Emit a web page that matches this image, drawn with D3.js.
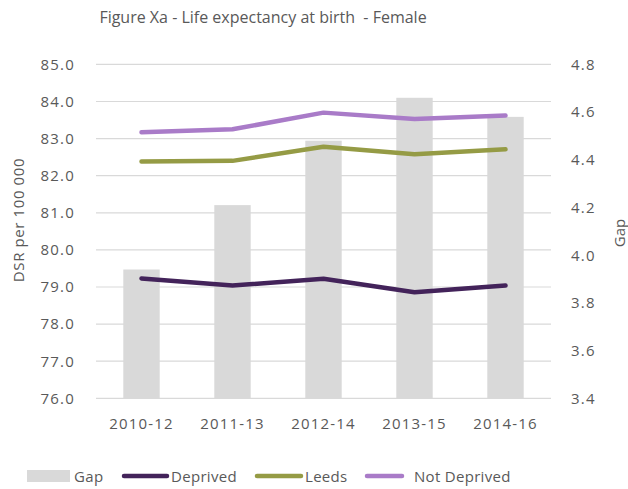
<!DOCTYPE html>
<html>
<head>
<meta charset="utf-8">
<script src="https://cdn.jsdelivr.net/npm/d3@7"></script>
<style>
  body { margin: 0; background: #fff; }
  text { font-family: "Open Sans", sans-serif; fill: #595959; }
</style>
</head>
<body>
<svg id="chart" width="628" height="489"></svg>
<script>
var categories = ["2010-12", "2011-13", "2012-14", "2013-15", "2014-16"];
var gap = [3.94, 4.21, 4.48, 4.66, 4.58];
var deprived = [79.23, 79.04, 79.22, 78.86, 79.04];
var leeds = [82.38, 82.40, 82.78, 82.58, 82.71];
var notDeprived = [83.17, 83.25, 83.70, 83.53, 83.62];
var leftTicks = [76, 77, 78, 79, 80, 81, 82, 83, 84, 85];
var rightTicks = [3.4, 3.6, 3.8, 4.0, 4.2, 4.4, 4.6, 4.8];

var svg = d3.select("#chart");
var plotLeft = 96, plotRight = 551, plotTop = 64.4, plotBottom = 398.3;

var x = d3.scaleBand().domain(categories).range([plotLeft, plotRight]).paddingInner(0.6).paddingOuter(0.3);
var y = d3.scaleLinear().domain([76, 85]).range([plotBottom, plotTop]);
var y2 = d3.scaleLinear().domain([3.4, 4.8]).range([plotBottom, plotTop]);

// gridlines
svg.append("g").selectAll("line")
  .data(leftTicks)
  .join("line")
  .attr("x1", plotLeft).attr("x2", plotRight)
  .attr("y1", function(d) { return y(d); })
  .attr("y2", function(d) { return y(d); })
  .attr("stroke", "#d9d9d9").attr("stroke-width", 1.2);

// bars
svg.append("g").selectAll("rect")
  .data(gap)
  .join("rect")
  .attr("x", function(d, i) { return x(categories[i]); })
  .attr("width", x.bandwidth())
  .attr("y", function(d) { return y2(d); })
  .attr("height", function(d) { return plotBottom - y2(d); })
  .attr("fill", "#d9d9d9");

// lines
var series = [
  {name: "Deprived", values: deprived, color: "#43235a"},
  {name: "Leeds", values: leeds, color: "#959b45"},
  {name: "Not Deprived", values: notDeprived, color: "#a97bc8"}
];
var line = d3.line()
  .x(function(d, i) { return x(categories[i]) + x.bandwidth() / 2; })
  .y(function(d) { return y(d); });

series.forEach(function(s) {
  svg.append("path")
    .attr("d", line(s.values))
    .attr("fill", "none")
    .attr("stroke", s.color)
    .attr("stroke-width", 4.5)
    .attr("stroke-linecap", "round")
    .attr("stroke-linejoin", "round");
});

// left axis
var yAxis = d3.axisLeft(y).tickValues(leftTicks).tickFormat(d3.format(".1f")).tickSize(0).tickPadding(21);
var gl = svg.append("g").attr("transform", "translate(" + plotLeft + ",0)").call(yAxis);
gl.select(".domain").remove();
gl.selectAll("text").style("font-size", "15px").style("letter-spacing", "1.2px").attr("fill", "#595959");

// right axis
var y2Axis = d3.axisRight(y2).tickValues(rightTicks).tickFormat(d3.format(".1f")).tickSize(0).tickPadding(20);
var gr = svg.append("g").attr("transform", "translate(" + plotRight + ",0)").call(y2Axis);
gr.select(".domain").remove();
gr.selectAll("text").style("font-size", "15px").style("letter-spacing", "1.2px").attr("fill", "#595959");

// x axis
var xAxis = d3.axisBottom(x).tickSize(0).tickPadding(20);
var gx = svg.append("g").attr("transform", "translate(0," + plotBottom + ")").call(xAxis);
gx.select(".domain").remove();
gx.selectAll("text").style("font-size", "15px").style("letter-spacing", "1.2px").attr("fill", "#595959");

// title
svg.append("text")
  .attr("x", 263).attr("y", 23)
  .attr("text-anchor", "middle")
  .attr("xml:space", "preserve")
  .style("font-size", "16px")
  .text("Figure Xa - Life expectancy at birth  - Female");

// axis titles
svg.append("text")
  .attr("transform", "translate(24,220) rotate(-90)")
  .attr("text-anchor", "middle")
  .style("font-size", "15px")
  .style("letter-spacing", "0.6px")
  .text("DSR per 100 000");

svg.append("text")
  .attr("transform", "translate(625,233) rotate(-90)")
  .attr("text-anchor", "middle")
  .style("font-size", "15px")
  .text("Gap");

// legend
var lg = svg.append("g");
lg.append("rect").attr("x", 27).attr("y", 470).attr("width", 43).attr("height", 12).attr("fill", "#d9d9d9");
lg.append("text").attr("x", 74).attr("y", 482).style("font-size", "15px").style("letter-spacing", "0.4px").text("Gap");
var legendPos = [{x1: 124, x2: 167, tx: 171}, {x1: 257, x2: 301, tx: 305}, {x1: 367, x2: 402, tx: 414}];
series.forEach(function(s, i) {
  var p = legendPos[i];
  lg.append("line").attr("x1", p.x1).attr("x2", p.x2).attr("y1", 476).attr("y2", 476)
    .attr("stroke", s.color).attr("stroke-width", 4.5).attr("stroke-linecap", "round");
  lg.append("text").attr("x", p.tx).attr("y", 482).style("font-size", "15px").style("letter-spacing", "0.3px").text(s.name);
});
</script>
</body>
</html>
